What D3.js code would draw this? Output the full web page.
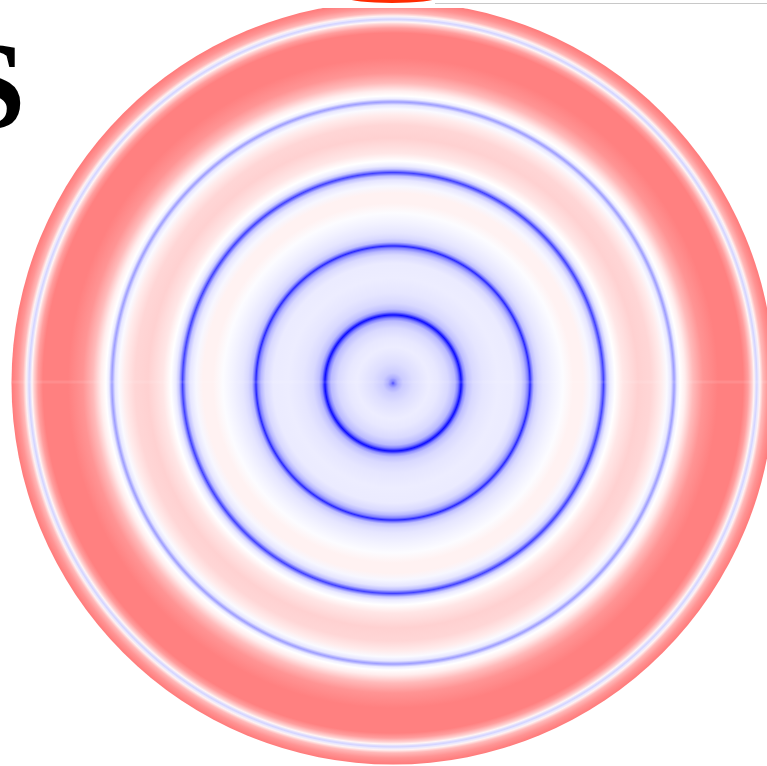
<!DOCTYPE html>
<html>
<head>
<meta charset="utf-8">
<script src="https://cdn.jsdelivr.net/npm/d3@7"></script>
<style>
body{margin:0;background:#fff;overflow:hidden}
svg{display:block}
</style>
</head>
<body>
<svg id="drawing_region"></svg>
<script>
// radial profile: radius (px from centre) and signed value
const ring_radius = [0,2,5,10,20,30,36,45,55,62,65,67,68,69,71,74,80,90,105,120,128,132,135,137,139,141,145,150,160,170,180,190,197,203,207,209,210.5,212,214,217,222,230,245,258,268,274,278,280,281,282,284,287,292,300,310,325,350,355,359,361,363,364,365,367,370,375,381.5];
const ring_value = [-0.75,-0.5,-0.32,-0.2,-0.13,-0.09,-0.07,-0.09,-0.15,-0.27,-0.5,-0.8,-0.95,-0.8,-0.45,-0.25,-0.15,-0.1,-0.07,-0.08,-0.15,-0.28,-0.5,-0.85,-0.5,-0.25,-0.15,-0.1,-0.05,-0.01,0.05,0.05,-0.03,-0.1,-0.26,-0.55,-0.75,-0.5,-0.22,-0.08,0,0.1,0.18,0.16,0.08,-0.02,-0.1,-0.3,-0.38,-0.3,-0.08,0,0.07,0.27,0.42,0.5,0.5,0.38,0.18,0.04,-0.14,-0.17,-0.1,0.05,0.28,0.42,0.52];
const letter = "S";

const width = 767, height = 766;
const cx = 393, cy = 383, rmax = 381.5;

const svg = d3.select("#drawing_region")
    .attr("width",width)
    .attr("height",height);

const offset = d3.scaleLinear().domain([0,rmax]).range([0,100]);
const color = d3.scaleLinear().domain([-1,0,1]).range(["#0000ff","#ffffff","#ff0000"]);

const defs = svg.append("defs");
defs.append("radialGradient")
    .attr("id","profile")
    .selectAll("stop")
    .data(ring_radius)
    .enter()
    .append("stop")
    .attr("offset",d=>offset(d)+"%")
    .attr("stop-color",(d,i)=>color(ring_value[i]));
defs.append("clipPath")
    .attr("id","top_clip")
    .append("rect")
    .attr("x",0)
    .attr("y",8)
    .attr("width",width)
    .attr("height",height-8);

svg.append("circle")
    .attr("cx",cx)
    .attr("cy",cy)
    .attr("r",rmax)
    .attr("fill","url(#profile)")
    .attr("clip-path","url(#top_clip)");

// seam where the polar grid closes
svg.append("line")
    .attr("x1",cx-rmax)
    .attr("x2",width)
    .attr("y1",cy-1)
    .attr("y2",cy-1)
    .attr("stroke","#fff")
    .attr("stroke-opacity",0.1)
    .attr("stroke-width",3);

// bits of the neighbouring panel
svg.append("line")
    .attr("x1",435)
    .attr("x2",width)
    .attr("y1",3.5)
    .attr("y2",3.5)
    .attr("stroke","#c8c8c8")
    .attr("stroke-width",1);
svg.append("ellipse")
    .attr("cx",392)
    .attr("cy",-2)
    .attr("rx",44)
    .attr("ry",5)
    .attr("fill","#ff2a00");

svg.append("text")
    .attr("x",-44)
    .attr("y",128)
    .attr("font-family","'Liberation Serif'")
    .attr("font-weight","bold")
    .attr("font-size",125)
    .attr("fill","#000")
    .text(letter);
</script>
</body>
</html>
